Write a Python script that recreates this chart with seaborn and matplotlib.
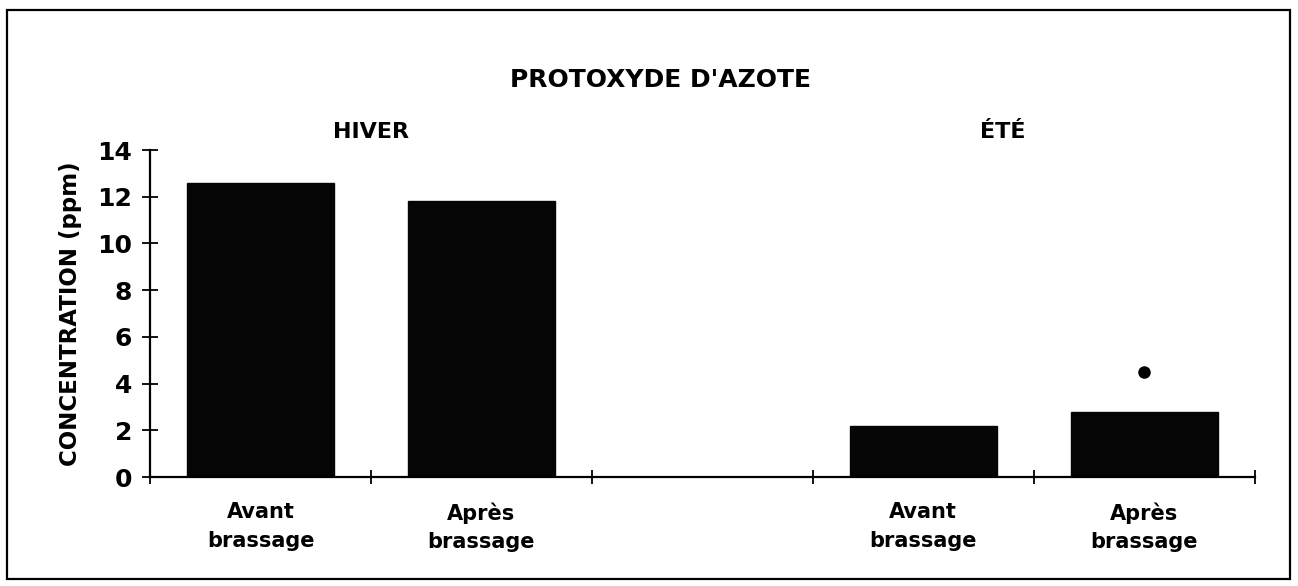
import matplotlib
matplotlib.use('Agg')
from matplotlib import pyplot as plt
from matplotlib.patches import Rectangle
import pandas as pd
import seaborn as sns

## Data ##

positions = [0, 1, 3, 4]
labels = ['Avant\nbrassage', 'Après\nbrassage', 'Avant\nbrassage', 'Après\nbrassage']
concentration = [12.6, 11.8, 2.2, 2.8]
season_names = ['HIVER', 'ÉTÉ']
season_x = [0.5, 3.36]
star_x = 4
star_y = 4.5

df = pd.DataFrame({'pos': positions, 'ppm': concentration})

## Bar chart ##

sns.set_style('white')
plt.rcParams['font.family'] = ['DejaVu Sans']
plt.rcParams['text.color'] = 'black'
plt.rcParams['xtick.color'] = 'black'
plt.rcParams['ytick.color'] = 'black'
plt.rcParams['axes.labelcolor'] = 'black'

fig = plt.figure(figsize=(12.98, 5.86), dpi=100)
ax = fig.add_axes([0.1156, 0.186, 0.851, 0.558])

sns.barplot(data=df, x='pos', y='ppm', native_scale=True, width=0.665,
            color='#050505', saturation=1, edgecolor='#050505', ax=ax)

ax.plot([star_x], [star_y], marker='o', markersize=8, color='black')

ax.set_xlim(-0.5, 4.5)
ax.set_ylim(0, 14)
ax.set_yticks(range(0, 15, 2))
ax.set_yticklabels([str(v) for v in range(0, 15, 2)], fontsize=18, fontweight='bold')

ax.set_xticks(positions)
ax.set_xticklabels(labels, fontsize=15, fontweight='bold', linespacing=1.55)
ax.set_xticks([-0.5, 0.5, 1.5, 2.5, 3.5, 4.5], minor=True)
ax.tick_params(axis='x', which='major', length=0, pad=18, bottom=True)
ax.tick_params(axis='x', which='minor', direction='inout', length=10, width=1.3, bottom=True)
ax.tick_params(axis='y', direction='inout', length=12, width=1.3, pad=7, left=True)
ax.set_xlabel('')
ax.set_ylabel('CONCENTRATION (ppm)', fontsize=16.5, fontweight='bold', labelpad=11)

for side in ['top', 'right']:
    ax.spines[side].set_visible(False)
for side in ['left', 'bottom']:
    ax.spines[side].set_linewidth(1.6)
    ax.spines[side].set_color('black')

for name, x in zip(season_names, season_x):
    ax.text(x, 14.35, name, ha='center', va='bottom', fontsize=16, fontweight='bold')

fig.text(0.509, 0.863, "PROTOXYDE D'AZOTE", ha='center', va='center',
         fontsize=18, fontweight='bold')

fig.patches.append(Rectangle((0.0055, 0.012), 0.988, 0.971, transform=fig.transFigure,
                             fill=False, edgecolor='black', linewidth=1.6))

fig.savefig('out.png', dpi=100)
